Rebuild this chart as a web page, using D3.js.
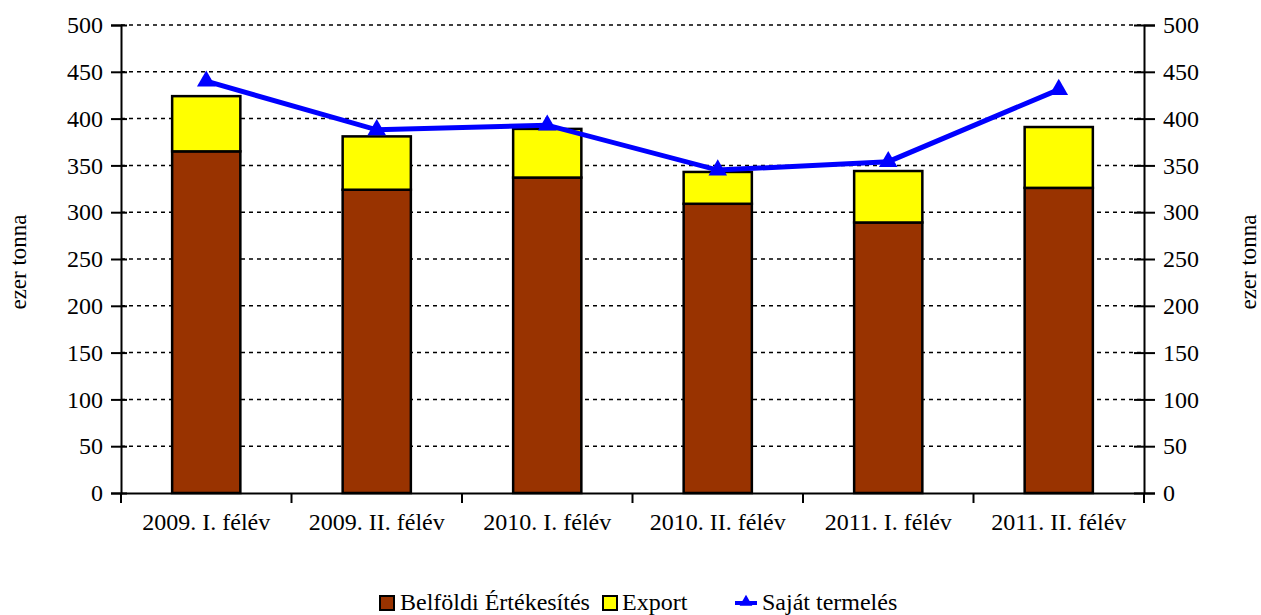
<!DOCTYPE html>
<html>
<head>
<meta charset="utf-8">
<script src="https://cdn.jsdelivr.net/npm/d3@7"></script>
<style>
body { margin: 0; background: #fff; }
text { font-family: "Liberation Serif", "Times New Roman", serif; }
</style>
</head>
<body>
<svg id="chart" width="1261" height="615" viewBox="0 0 1261 615"></svg>
<script>
var categories = ["2009. I. félév", "2009. II. félév", "2010. I. félév", "2010. II. félév", "2011. I. félév", "2011. II. félév"];
var belfoldi = [365, 324, 337, 309, 289, 326];
var exportValues = [59, 57, 52, 34, 55, 65];
var sajat = [440, 388, 393, 345, 354, 431];
var yTicks = [0, 50, 100, 150, 200, 250, 300, 350, 400, 450, 500];

var svg = d3.select("#chart");
var mLeft = 121, mRight = 1144, mTop = 25, mBottom = 493;
var fs = 24;

var x = d3.scaleBand().domain(categories).range([mLeft, mRight]).paddingInner(0.6).paddingOuter(0.3);
var xc = d3.scaleBand().domain(categories).range([mLeft, mRight]);
var y = d3.scaleLinear().domain([0, 500]).range([mBottom, mTop]);

// grid lines
svg.append("g").selectAll("line")
	.data(yTicks.filter(function (d) { return d > 0; }))
	.enter().append("line")
	.attr("x1", mLeft).attr("x2", mRight)
	.attr("y1", function (d) { return y(d); })
	.attr("y2", function (d) { return y(d); })
	.attr("stroke", "#000").attr("stroke-width", 1.5)
	.attr("stroke-dasharray", "4,4");

// y axes on both sides
var yAxisL = d3.axisLeft(y).tickValues(yTicks).tickSize(10).tickPadding(8);
var gl = svg.append("g").attr("transform", "translate(" + mLeft + ",0)").call(yAxisL);
var yAxisR = d3.axisRight(y).tickValues(yTicks).tickSize(11).tickPadding(8);
var gr = svg.append("g").attr("transform", "translate(" + mRight + ",0)").call(yAxisR);
// ticks cross the axis
gl.selectAll(".tick line").attr("x1", 6);
gr.selectAll(".tick line").attr("x1", -10);
[gl, gr].forEach(function (g) {
	g.select(".domain").attr("stroke-width", 2);
	g.selectAll(".tick line").attr("stroke-width", 2);
	g.selectAll("text").attr("font-size", fs).attr("fill", "#000")
		.style("font-family", "Liberation Serif");
});

// stacked bars
var bars = svg.append("g");
categories.forEach(function (c, i) {
	bars.append("rect")
		.attr("x", x(c)).attr("width", x.bandwidth())
		.attr("y", y(belfoldi[i])).attr("height", y(0) - y(belfoldi[i]))
		.attr("fill", "#993300").attr("stroke", "#000").attr("stroke-width", 2.5);
	bars.append("rect")
		.attr("x", x(c)).attr("width", x.bandwidth())
		.attr("y", y(belfoldi[i] + exportValues[i])).attr("height", y(0) - y(exportValues[i]))
		.attr("fill", "#ffff00").attr("stroke", "#000").attr("stroke-width", 2.5);
});

// x axis
var xAxis = d3.axisBottom(xc).tickSize(0).tickPadding(20);
var gx = svg.append("g").attr("transform", "translate(0," + mBottom + ")").call(xAxis);
gx.select(".domain").attr("stroke-width", 2);
gx.selectAll("text").attr("font-size", fs).attr("fill", "#000").style("font-family", "Liberation Serif");
gx.selectAll(".bound")
	.data(d3.range(categories.length + 1))
	.enter().append("line")
	.attr("x1", function (d) { return mLeft + d * xc.step(); })
	.attr("x2", function (d) { return mLeft + d * xc.step(); })
	.attr("y1", 0).attr("y2", 10)
	.attr("stroke", "#000").attr("stroke-width", 2);

// line series
var line = d3.line()
	.x(function (d, i) { return xc(categories[i]) + xc.bandwidth() / 2; })
	.y(function (d) { return y(d); });
svg.append("path").datum(sajat)
	.attr("d", line).attr("fill", "none")
	.attr("stroke", "#0000ff").attr("stroke-width", 5);
var tri = d3.symbol().type(d3.symbolTriangle).size(150);
svg.append("g").selectAll("path")
	.data(sajat).enter().append("path")
	.attr("d", tri)
	.attr("transform", function (d, i) {
		return "translate(" + (xc(categories[i]) + xc.bandwidth() / 2) + "," + y(d) + ")";
	})
	.attr("fill", "#0000ff");

// axis titles
svg.append("text").attr("transform", "translate(26,262) rotate(-90)")
	.attr("text-anchor", "middle").attr("font-size", 23).text("ezer tonna");
svg.append("text").attr("transform", "translate(1256,262) rotate(-90)")
	.attr("text-anchor", "middle").attr("font-size", 23).text("ezer tonna");

// legend
var lg = svg.append("g").attr("transform", "translate(0,603)");
lg.append("rect").attr("x", 380).attr("y", -7).attr("width", 14).attr("height", 14)
	.attr("fill", "#993300").attr("stroke", "#000").attr("stroke-width", 2);
lg.append("text").attr("x", 400).attr("y", 7).attr("font-size", fs).text("Belföldi Értékesítés");
lg.append("rect").attr("x", 603).attr("y", -7).attr("width", 14).attr("height", 14)
	.attr("fill", "#ffff00").attr("stroke", "#000").attr("stroke-width", 2);
lg.append("text").attr("x", 622).attr("y", 7).attr("font-size", fs).text("Export");
lg.append("line").attr("x1", 735).attr("x2", 757).attr("y1", 0).attr("y2", 0)
	.attr("stroke", "#0000ff").attr("stroke-width", 4);
lg.append("path").attr("d", d3.symbol().type(d3.symbolTriangle).size(70))
	.attr("transform", "translate(746,-1)").attr("fill", "#0000ff");
lg.append("text").attr("x", 762).attr("y", 7).attr("font-size", fs).text("Saját termelés");
</script>
</body>
</html>
